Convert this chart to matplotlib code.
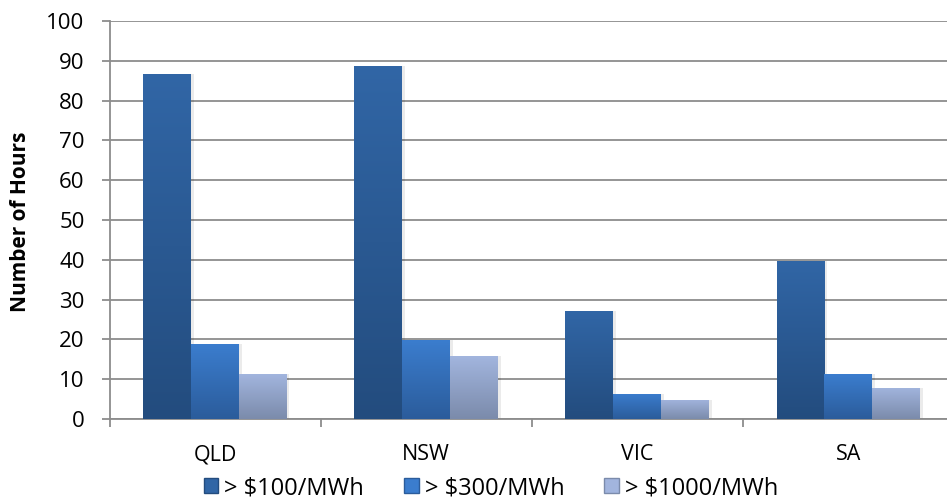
import numpy as np
import matplotlib.pyplot as plt
from matplotlib.colors import LinearSegmentedColormap
from matplotlib.patches import Rectangle

regions = ['QLD', 'NSW', 'VIC', 'SA']
over_100 = [86.7, 88.7, 27.1, 39.7]
over_300 = [18.8, 19.8, 6.3, 11.3]
over_1000 = [11.3, 15.8, 4.8, 7.8]
series_names = ['> $100/MWh', '> $300/MWh', '> $1000/MWh']

# (top colour, bottom colour) for each series
shades = [('#3166a6', '#234c7e'),
          ('#3b7dce', '#2b5c9b'),
          ('#a2b5de', '#7b8bab')]

plt.rcParams['font.family'] = ['Open Sans', 'DejaVu Sans']

fig = plt.figure(figsize=(9.47, 5.01), dpi=100)
ax = fig.add_axes([109.5 / 947, 1 - 419 / 501, 844.5 / 947, 398 / 501])

x = np.arange(len(regions))
width = 0.227
grad = np.linspace(0, 1, 256).reshape(-1, 1)

handles = []
for i, (vals, (top, bottom)) in enumerate(zip([over_100, over_300, over_1000], shades)):
    cmap = LinearSegmentedColormap.from_list(f's{i}', [bottom, top])
    bars = ax.bar(x + (i - 1) * width, vals, width, color='none', zorder=3)
    for b in bars:
        bx, by = b.get_x(), b.get_y()
        w, h = b.get_width(), b.get_height()
        # faint shadow on the right-hand side
        ax.add_patch(Rectangle((bx + w, by), 0.012, h, color='#000000',
                               alpha=0.08, lw=0, zorder=2))
        img = ax.imshow(grad, cmap=cmap, origin='lower', aspect='auto',
                        extent=(bx, bx + w, by, by + h), zorder=3)
        img.set_clip_path(b)
    handles.append(Rectangle((0, 0), 1, 1, facecolor=top, edgecolor=bottom))

ax.set_xlim(-0.5, len(regions) - 0.5)
ax.set_ylim(0, 100)
ax.set_yticks(range(0, 101, 10))
ax.set_xticks(x)
ax.set_xticklabels(regions)
ax.set_xticks(np.arange(-0.5, len(regions), 1), minor=True)

ax.grid(axis='y', color='#8c8c8c', linewidth=1.3, zorder=0)
ax.set_axisbelow(True)
for side in ['top', 'right']:
    ax.spines[side].set_visible(False)
for side in ['left', 'bottom']:
    ax.spines[side].set_color('#8c8c8c')
    ax.spines[side].set_linewidth(1.3)

ax.tick_params(axis='y', direction='out', length=6, width=1.3,
               color='#8c8c8c', labelsize=16, pad=12)
ax.tick_params(axis='x', which='major', length=0, labelsize=15.5, pad=18)
ax.tick_params(axis='x', which='minor', direction='out', length=6,
               width=1.3, color='#8c8c8c')

fig.text(20 / 947, 1 - 222 / 501, 'Number of Hours', rotation=90,
         fontsize=15, fontweight='bold', ha='center', va='center')

fig.legend(handles, series_names, loc='center', bbox_to_anchor=(491 / 947, 1 - 488 / 501),
           ncol=3, frameon=False, fontsize=17, handlelength=0.62, handleheight=0.62,
           handletextpad=0.25, columnspacing=1.7)

fig.savefig('out.png', dpi=100)
